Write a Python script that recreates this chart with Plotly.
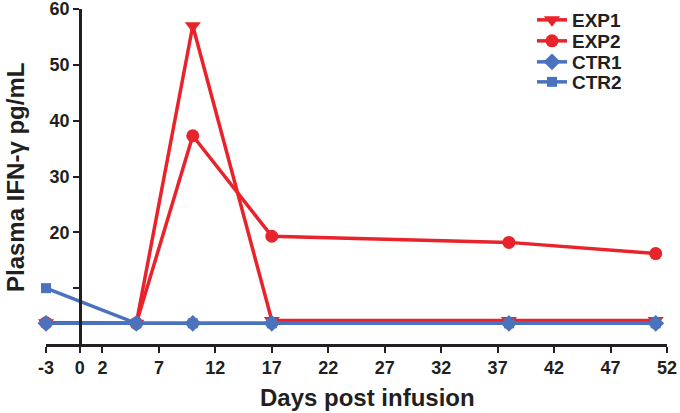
import plotly.graph_objects as go

days = [-3, 5, 10, 17, 38, 51]
exp1 = [3.8, 3.7, 57.0, 4.2, 4.2, 4.2]
exp2 = [3.8, 3.7, 37.3, 19.3, 18.2, 16.2]
ctr1 = [3.7, 3.7, 3.7, 3.7, 3.7, 3.7]
ctr2 = [10.0, 3.7, 3.7, 3.7, 3.7, 3.7]

x_ticks = [-3, 0, 2, 7, 12, 17, 22, 27, 32, 37, 42, 47, 52]
x_ticktext = ["-3", "0", "2", "7", "12", "17", "22", "27", "32", "37", "42", "47", "52"]
y_ticks = [10, 20, 30, 40, 50, 60]
y_ticktext = ["", "20", "30", "40", "50", "60"]

RED = "#E8232B"
BLUE = "#4A72BD"
FONT = "Liberation Sans, Arial, sans-serif"

# plot area in pixels
L, R, T, B = 46, 13, 9, 69
PW, PH = 680 - L - R, 413 - T - B

fig = go.Figure()
series = [
    ("EXP1", exp1, RED, "triangle-down", 14),
    ("EXP2", exp2, RED, "circle", 13),
    ("CTR1", ctr1, BLUE, "diamond", 13),
    ("CTR2", ctr2, BLUE, "square", 10),
]
legend_ids = ["legend", "legend2", "legend3", "legend4"]
legend_rows = [20, 41, 62, 82]
for (name, vals, col, sym, sz), lid in zip(series, legend_ids):
    fig.add_trace(go.Scatter(
        x=days, y=vals, name=name, mode="lines+markers",
        line=dict(color=col, width=3.5),
        marker=dict(symbol=sym, size=sz, color=col),
        cliponaxis=False, legend=lid,
    ))

legend_layout = {}
for lid, row in zip(legend_ids, legend_rows):
    legend_layout[lid] = dict(
        x=(532 - L) / PW, y=(413 - B - row) / PH, xanchor="left", yanchor="middle",
        font=dict(family=FONT, size=19, color="#231F20", weight="bold"),
        bgcolor="rgba(0,0,0,0)", itemwidth=30,
    )

xmin, xmax = -3, 52
fig.update_layout(
    width=680, height=413,
    margin=dict(l=L, r=R, t=T, b=B, autoexpand=False),
    plot_bgcolor="white", paper_bgcolor="white",
    font=dict(family=FONT, color="#231F20", size=16, weight="bold"),
    showlegend=True,
    xaxis=dict(
        range=[xmin, xmax], tickvals=x_ticks, ticktext=x_ticktext,
        showgrid=False, zeroline=False, automargin=False, ticklabeloverflow="allow",
        showline=True, linecolor="#231F20", linewidth=2.5,
        ticks="outside", ticklen=6, tickwidth=2, tickcolor="#231F20",
        tickfont=dict(family=FONT, size=18, weight="bold"),
    ),
    yaxis=dict(
        range=[0, 60], tickvals=y_ticks, ticktext=y_ticktext,
        showgrid=False, zeroline=False, automargin=False, ticklabeloverflow="allow",
        anchor="free", position=(0 - xmin) / (xmax - xmin),
        showline=True, linecolor="#231F20", linewidth=2.5,
        ticks="outside", ticklen=6, tickwidth=2, tickcolor="#231F20",
        tickfont=dict(family=FONT, size=18, weight="bold"),
    ),
    annotations=[
        dict(text="Days post infusion", xref="paper", yref="paper",
             x=(367 - L) / PW, y=-(397 - (413 - B)) / PH, xanchor="center", yanchor="middle",
             showarrow=False, font=dict(family=FONT, size=24, weight="bold")),
        dict(text="Plasma IFN-\u03b3 pg/mL", xref="paper", yref="paper",
             x=(15 - L) / PW, y=(413 - B - 178) / PH, xanchor="center", yanchor="middle",
             textangle=-90, showarrow=False,
             font=dict(family=FONT, size=24, weight="bold")),
    ],
    **legend_layout,
)

fig.write_html("out.html", config={"displayModeBar": False},
               post_script="document.body.style.margin='0';")
